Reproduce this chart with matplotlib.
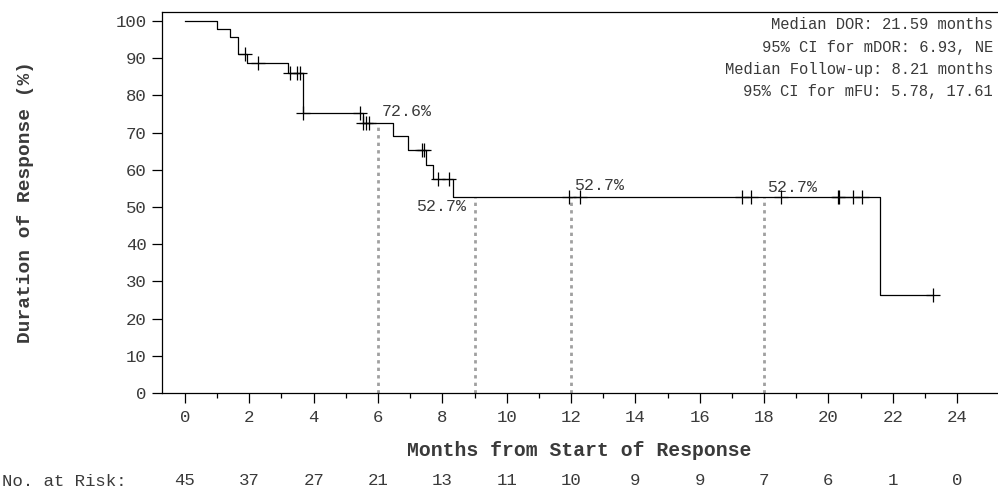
import numpy as np
import matplotlib
matplotlib.use('Agg')
import matplotlib.pyplot as plt
import matplotlib.ticker as plticker

# Kaplan-Meier step curve (months, % still in response)
step_times = [0, 0.98, 1.40, 1.66, 1.93, 3.21, 3.68, 5.52, 6.47, 6.94, 7.49, 7.70, 8.34, 21.59]
step_surv = [100, 97.8, 95.6, 91.1, 88.8, 86.1, 75.3, 72.6, 69.0, 65.3, 61.3, 57.4, 52.7, 26.3]
censor_times = [1.88, 2.28, 3.27, 3.47, 3.58, 3.68, 5.44, 5.54, 5.63, 5.72, 7.36, 7.43, 7.88,
                8.22, 11.95, 12.28, 17.30, 17.60, 18.52, 20.29, 20.33, 20.77, 21.05, 23.26]

# landmark estimates shown with dotted drop lines
landmark_months = [6, 9, 12, 18]
landmark_surv = [72.6, 52.7, 52.7, 52.7]
landmark_offsets = [(3, 8), (-6, -7), (2, 8), (2, 7)]  # text offsets in points
landmark_ha = ['left', 'right', 'left', 'left']

risk_months = [0, 2, 4, 6, 8, 10, 12, 14, 16, 18, 20, 22, 24]
at_risk = [45, 37, 27, 21, 13, 11, 10, 9, 9, 7, 6, 1, 0]

summary_lines = ['Median DOR: 21.59 months',
                 '95% CI for mDOR: 6.93, NE',
                 'Median Follow-up: 8.21 months',
                 '95% CI for mFU: 5.78, 17.61']

mono = 'Liberation Mono'
txt = '#3a3a3a'

fig = plt.figure(figsize=(9.98, 4.96), dpi=100)
ax = fig.add_axes([0.1623, 0.2077, 0.8367, 0.7681])

# curve runs on to the last censored patient
t_end = censor_times[-1]
xs = np.append(step_times, t_end)
ys = np.append(step_surv, step_surv[-1])
ax.step(xs, ys, where='post', color='black', lw=0.9, zorder=3)

idx = np.searchsorted(step_times, censor_times, side='right') - 1
censor_y = np.array(step_surv)[idx]
ax.plot(censor_times, censor_y, ls='none', marker='+', ms=10, mew=0.9, color='black', zorder=4)

for m, s, off, ha in zip(landmark_months, landmark_surv, landmark_offsets, landmark_ha):
    ax.plot([m, m], [0, s], color='#a0a0a0', lw=2, ls=(0, (1.2, 1.5)), zorder=2)
    ax.annotate('%.1f%%' % s, (m, s), xytext=off, textcoords='offset points',
                ha=ha, va='center', fontsize=12, family=mono, color=txt)

for i, line in enumerate(summary_lines):
    ax.text(0.995, 0.966 - i * 0.058, line, transform=ax.transAxes, ha='right', va='center',
            fontsize=11.2, family=mono, color=txt)

ax.set_xlim(-0.715, 25.24)
ax.set_ylim(0, 102.4)
ax.xaxis.set_major_locator(plticker.MultipleLocator(2))
ax.xaxis.set_minor_locator(plticker.FixedLocator(np.arange(1, 24, 2)))
ax.yaxis.set_major_locator(plticker.MultipleLocator(10))
ax.tick_params(axis='both', which='major', length=7, width=0.9, color='black', labelcolor=txt, labelsize=12.5)
ax.tick_params(axis='x', which='major', pad=5)
ax.tick_params(axis='y', which='major', pad=4)
ax.tick_params(axis='x', which='minor', length=3.5, width=0.9)
for lab in ax.get_xticklabels() + ax.get_yticklabels():
    lab.set_family(mono)

ax.spines['right'].set_visible(False)
for sp in ['left', 'top', 'bottom']:
    ax.spines[sp].set_linewidth(0.9)

ax.set_xlabel('Months from Start of Response', family=mono, fontweight='bold', fontsize=14.2, color=txt)
ax.xaxis.set_label_coords(0.5, -0.125)
ax.set_ylabel('Duration of Response (%)', family=mono, fontweight='bold', fontsize=14, color=txt)
ax.yaxis.set_label_coords(-0.153, 0.5)

# number at risk row under the axis
for m, n in zip(risk_months, at_risk):
    ax.text(m, -0.231, str(n), transform=ax.get_xaxis_transform(), ha='center', va='center',
            fontsize=12.5, family=mono, color=txt)
fig.text(0.002, 0.030, 'No. at Risk:', ha='left', va='center', fontsize=12.5, family=mono, color=txt)

fig.savefig('out.png', dpi=100)
